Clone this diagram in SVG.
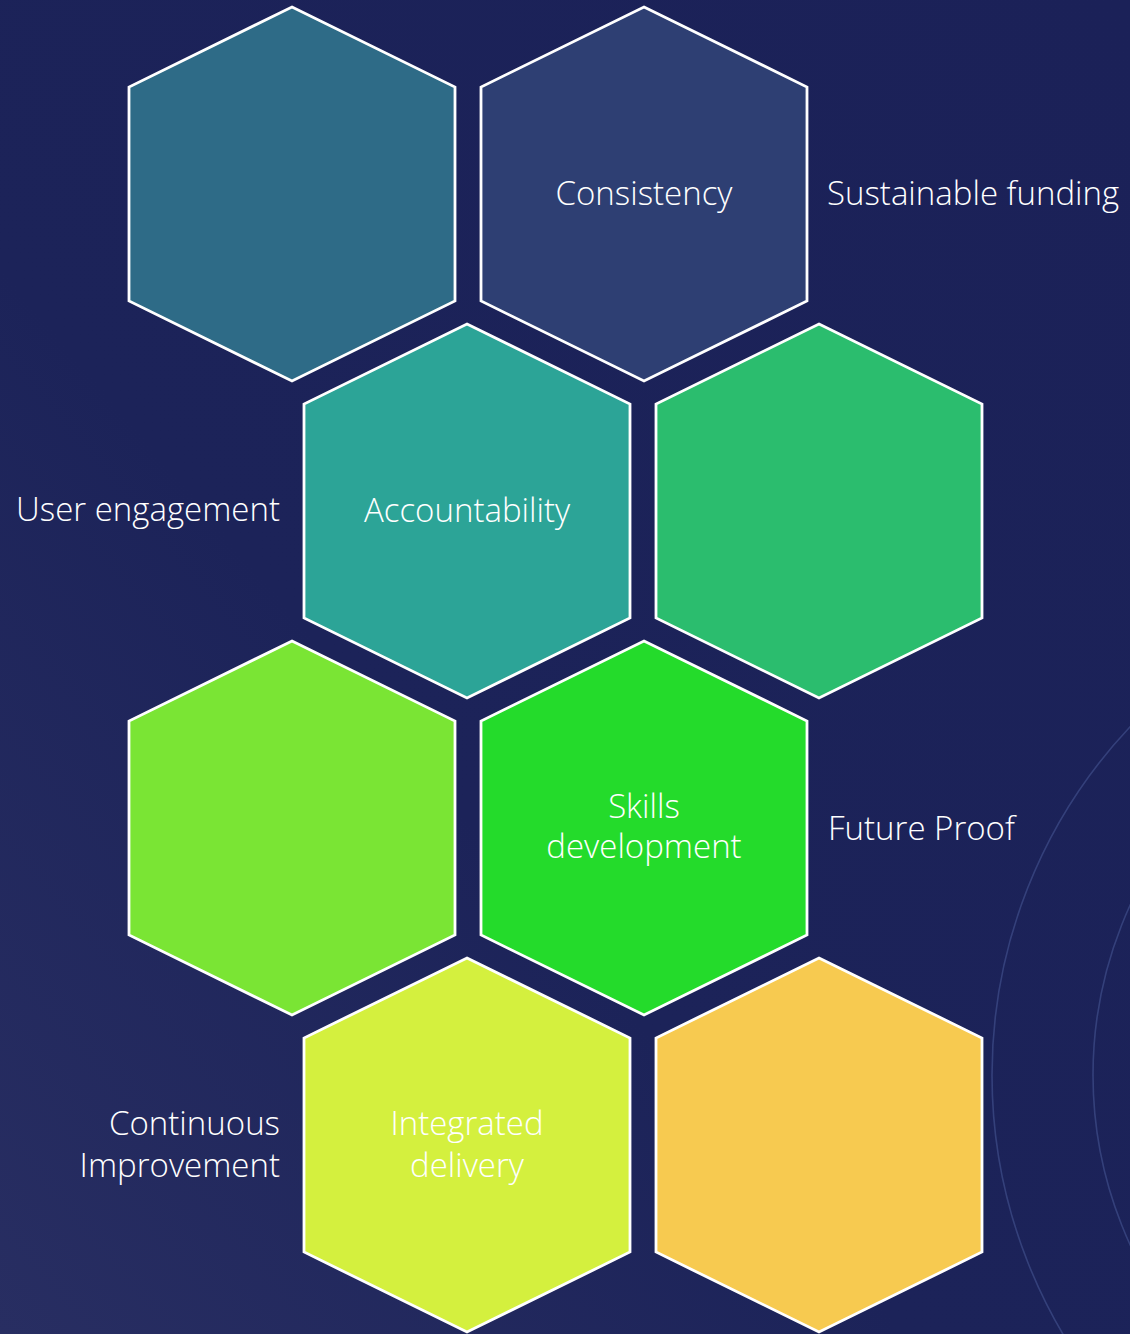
<svg xmlns="http://www.w3.org/2000/svg" width="1130" height="1334" viewBox="0 0 1130 1334">
<style>
.hex{stroke:#ffffff;stroke-width:2.8;stroke-linejoin:miter}
.t{font-family:"Open Sans","Noto Sans","Liberation Sans",sans-serif;font-weight:300;font-size:33px;fill:#ffffff}
.m{text-anchor:middle}
.e{text-anchor:end}
.arc{fill:none;stroke:#5a6fb0;stroke-opacity:0.4;stroke-width:1.6}
</style>
<defs>
<linearGradient id="bg" x1="1" y1="0" x2="0" y2="1">
<stop offset="0" stop-color="#1b2158"/>
<stop offset="0.6" stop-color="#1c2359"/>
<stop offset="1" stop-color="#282e62"/>
</linearGradient>
<polygon id="hx" points="0,-187 163,-107 163,107 0,187 -163,107 -163,-107"/>
</defs>
<rect width="1130" height="1334" fill="url(#bg)"/>
<g id="decor">
<circle class="arc" cx="1500" cy="1075" r="508"/>
<circle class="arc" cx="1500" cy="1075" r="407"/>
</g>
<g id="connectors"></g>
<g id="hex1"><use href="#hx" class="hex" x="292" y="194" fill="#2e6b87"/></g>
<g id="hex2"><use href="#hx" class="hex" x="644" y="194" fill="#2e3f73"/><text class="t m" x="644" y="205">Consistency</text></g>
<g id="label-sustainable"><text class="t" x="827" y="205">Sustainable funding</text></g>
<g id="hex3"><use href="#hx" class="hex" x="467" y="511" fill="#2ca497"/><text class="t m" x="467" y="522">Accountability</text></g>
<g id="label-user"><text class="t e" x="280" y="521">User engagement</text></g>
<g id="hex4"><use href="#hx" class="hex" x="819" y="511" fill="#2bbd6e"/></g>
<g id="hex5"><use href="#hx" class="hex" x="292" y="828" fill="#7ae534"/></g>
<g id="hex6"><use href="#hx" class="hex" x="644" y="828" fill="#24db2b"/><text class="t m" x="644" y="818">Skills</text><text class="t m" x="644" y="858">development</text></g>
<g id="label-future"><text class="t" x="828" y="840">Future Proof</text></g>
<g id="hex7"><use href="#hx" class="hex" x="467" y="1145" fill="#d4f03e"/><text class="t m" x="467" y="1135">Integrated</text><text class="t m" x="467" y="1177">delivery</text></g>
<g id="label-continuous"><text class="t e" x="280" y="1135">Continuous</text><text class="t e" x="280" y="1177">Improvement</text></g>
<g id="hex8"><use href="#hx" class="hex" x="819" y="1145" fill="#f7ca50"/></g>
</svg>
